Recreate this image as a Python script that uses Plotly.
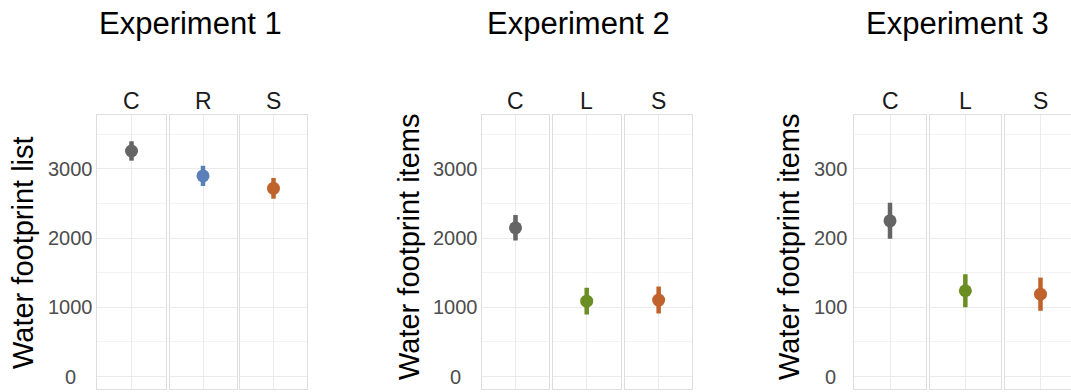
import plotly.graph_objects as go

W, H = 1071, 392

# ---- data ----
experiments = ["Experiment 1", "Experiment 2", "Experiment 3"]
y_titles = ["Water footprint list", "Water footprint items", "Water footprint items"]
exp1_groups = ["C", "R", "S"]
exp1_means = [3260, 2900, 2720]
exp1_err = [140, 145, 150]
exp2_groups = ["C", "L", "S"]
exp2_means = [2150, 1090, 1105]
exp2_err = [185, 195, 195]
exp3_groups = ["C", "L", "S"]
exp3_means = [225, 124, 119]
exp3_err = [26, 24, 24]
y_ticks_12 = [0, 1000, 2000, 3000]
y_ticks_3 = [0, 100, 200, 300]

group_colors = {"C": "#656565", "R": "#5b7fb8", "S": "#c0622b", "L": "#6b8e23"}

panels = [
    (exp1_groups, exp1_means, exp1_err, [-180, 3780], y_ticks_12, 500),
    (exp2_groups, exp2_means, exp2_err, [-180, 3780], y_ticks_12, 500),
    (exp3_groups, exp3_means, exp3_err, [-18, 378], y_ticks_3, 50),
]

# layout geometry (pixels)
facet_px = [
    [(97, 166), (169.5, 236.5), (240, 307)],
    [(481.7, 549.3), (552.7, 620.7), (625, 692.3)],
    [(854.3, 925.7), (930, 1000.7), (1005, 1076)],
]
panel_top, panel_bot = 115, 389
title_x = [190, 578, 957]
ytitle_x = [23, 409, 789]
ytitle_y = [253, 247, 247]
ticklabel_cx = [70, 455, 830]
FONT = "Liberation Sans, Arial"

fig = go.Figure()
layout = {}
annotations = []
grid_c = "#ebebeb"
minor_c = "#f3f3f3"
border_c = "#dedede"

ydom = [1 - panel_bot / H, 1 - panel_top / H]

k = 0
for p, (groups, means, errs, yr, yt, minor_dt) in enumerate(panels):
    for f, g in enumerate(groups):
        k += 1
        xname = "xaxis" if k == 1 else f"xaxis{k}"
        yname = "yaxis" if k == 1 else f"yaxis{k}"
        xref = "x" if k == 1 else f"x{k}"
        yref = "y" if k == 1 else f"y{k}"
        x0, x1 = facet_px[p][f]
        cx = (x0 + x1) / 2
        xr = [-0.5, 0.5]
        clipped = x1 > W
        if clipped:
            xr = [-0.5, -0.5 + (W - x0) / (x1 - x0)]
            x1 = W
        fig.add_trace(go.Scatter(
            x=[g], y=[means[f]], xaxis=xref, yaxis=yref,
            mode="markers",
            marker=dict(size=13, color=group_colors[g]),
            error_y=dict(type="data", array=[errs[f]], color=group_colors[g],
                         thickness=4.5, width=0),
            showlegend=False, hoverinfo="y",
        ))
        layout[xname] = dict(
            domain=[x0 / W, x1 / W], anchor=yref, type="category",
            range=xr, showticklabels=False, ticks="",
            showgrid=True, gridcolor=grid_c, gridwidth=1,
            showline=True, mirror=True, linecolor=border_c, linewidth=1,
            zeroline=False, fixedrange=True,
        )
        layout[yname] = dict(
            domain=ydom, anchor=xref, range=yr,
            tickvals=yt, showticklabels=False, ticks="",
            showgrid=True, gridcolor=grid_c, gridwidth=1,
            minor=dict(showgrid=True, dtick=minor_dt, tick0=0, gridcolor=minor_c, gridwidth=1),
            showline=True, mirror=not clipped, linecolor=border_c, linewidth=1,
            zeroline=False, fixedrange=True,
        )
        annotations.append(dict(
            text=g, x=cx / W, y=1 - 101 / H, xref="paper", yref="paper",
            showarrow=False, xanchor="center", yanchor="middle",
            font=dict(size=23, color="#1a1a1a", family=FONT),
        ))
        if f == 0:
            # centred y tick labels placed on the panel's own y scale
            for v in yt:
                annotations.append(dict(
                    text=str(v), x=ticklabel_cx[p] / W, y=v,
                    xref="paper", yref=yref, showarrow=False,
                    xanchor="center", yanchor="middle",
                    font=dict(size=20, color="#4d4d4d", family=FONT),
                ))
    annotations.append(dict(
        text=experiments[p], x=title_x[p] / W, y=1 - 24 / H,
        xref="paper", yref="paper", showarrow=False,
        xanchor="center", yanchor="middle",
        font=dict(size=31, color="#000000", family=FONT),
    ))
    annotations.append(dict(
        text=y_titles[p], x=ytitle_x[p] / W, y=1 - ytitle_y[p] / H,
        xref="paper", yref="paper", showarrow=False, textangle=-90,
        xanchor="center", yanchor="middle",
        font=dict(size=29, color="#000000", family=FONT),
    ))

fig.update_layout(
    width=W, height=H,
    margin=dict(l=0, r=0, t=0, b=0),
    paper_bgcolor="white", plot_bgcolor="white",
    annotations=annotations,
    **layout,
)

fig.write_html("out.html", config={"displayModeBar": False})
